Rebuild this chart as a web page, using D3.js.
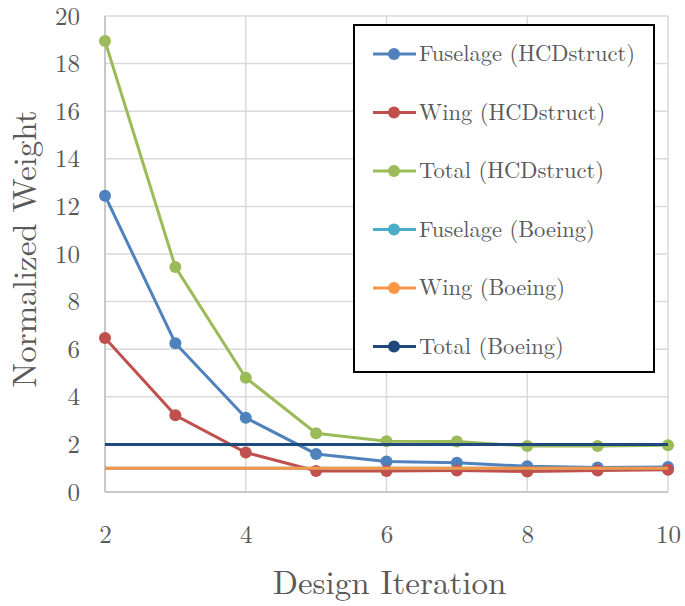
<!DOCTYPE html>
<html>
<head>
<meta charset="utf-8">
<script src="https://cdn.jsdelivr.net/npm/d3@7"></script>
<style>
  body { margin: 0; background: #fff; }
</style>
</head>
<body>
<div id="chart"></div>
<script>
// Daten
const iterations = [2, 3, 4, 5, 6, 7, 8, 9, 10];
const fuselageHCD = [12.45, 6.25, 3.12, 1.6, 1.28, 1.23, 1.08, 1.03, 1.05];
const wingHCD = [6.47, 3.22, 1.66, 0.88, 0.88, 0.9, 0.86, 0.9, 0.93];
const totalHCD = [18.95, 9.45, 4.8, 2.47, 2.13, 2.12, 1.93, 1.93, 1.96];
const fuselageBoeing = [1, 1, 1, 1, 1, 1, 1, 1, 1];
const wingBoeing = [1, 1, 1, 1, 1, 1, 1, 1, 1];
const totalBoeing = [2, 2, 2, 2, 2, 2, 2, 2, 2];
const xTicks = [2, 4, 6, 8, 10];
const yTicks = [0, 2, 4, 6, 8, 10, 12, 14, 16, 18, 20];

const series = [
  { name: "Fuselage (HCDstruct)", values: fuselageHCD, color: "#4f81bd", markers: true },
  { name: "Wing (HCDstruct)", values: wingHCD, color: "#c0504d", markers: true },
  { name: "Total (HCDstruct)", values: totalHCD, color: "#9bbb59", markers: true },
  { name: "Fuselage (Boeing)", values: fuselageBoeing, color: "#4bacc6", markers: false },
  { name: "Wing (Boeing)", values: wingBoeing, color: "#f79646", markers: false },
  { name: "Total (Boeing)", values: totalBoeing, color: "#1f497d", markers: false }
];

const FONT = '"Latin Modern Roman", "Liberation Serif", serif';
const TXT = "#595959";

const width = 685, height = 606;
const margin = { top: 16, right: 17, bottom: 114, left: 105 };

const svg = d3.select("#chart").append("svg")
  .attr("width", width)
  .attr("height", height);

const x = d3.scaleLinear().domain([2, 10]).range([margin.left, width - margin.right]);
const y = d3.scaleLinear().domain([0, 20]).range([height - margin.bottom, margin.top]);

// Gitter
svg.append("g").selectAll("line.h").data(yTicks).join("line")
  .attr("x1", x(2)).attr("x2", x(10))
  .attr("y1", d => y(d)).attr("y2", d => y(d))
  .attr("stroke", "#d9d9d9").attr("stroke-width", 1.5);
svg.append("g").selectAll("line.v").data(xTicks).join("line")
  .attr("x1", d => x(d)).attr("x2", d => x(d))
  .attr("y1", y(0)).attr("y2", y(20))
  .attr("stroke", "#d9d9d9").attr("stroke-width", 1.5);

// Achsenlinien
svg.append("line").attr("x1", x(2)).attr("x2", x(10)).attr("y1", y(0)).attr("y2", y(0))
  .attr("stroke", "#bfbfbf").attr("stroke-width", 1.5);
svg.append("line").attr("x1", x(2)).attr("x2", x(2)).attr("y1", y(0)).attr("y2", y(20))
  .attr("stroke", "#bfbfbf").attr("stroke-width", 1.5);

// Achsenbeschriftung
const yAxis = d3.axisLeft(y).tickValues(yTicks).tickSize(0).tickPadding(25);
svg.append("g").attr("transform", `translate(${margin.left},0)`).call(yAxis)
  .call(g => g.select(".domain").remove())
  .selectAll("text")
  .style("font-family", FONT).style("font-size", "25px").attr("fill", TXT);

const xAxis = d3.axisBottom(x).tickValues(xTicks).tickSize(0).tickPadding(33);
svg.append("g").attr("transform", `translate(0,${y(0)})`).call(xAxis)
  .call(g => g.select(".domain").remove())
  .selectAll("text")
  .style("font-family", FONT).style("font-size", "25px").attr("fill", TXT);

svg.append("text")
  .attr("transform", `translate(36,249) rotate(-90)`)
  .attr("text-anchor", "middle")
  .style("font-family", FONT).style("font-size", "33px").attr("fill", TXT)
  .text("Normalized Weight");

svg.append("text")
  .attr("x", (x(2) + x(10)) / 2 + 3)
  .attr("y", 594)
  .attr("text-anchor", "middle")
  .style("font-family", FONT).style("font-size", "33px").attr("fill", TXT)
  .text("Design Iteration");

// Linien
const line = d3.line()
  .x((d, i) => x(iterations[i]))
  .y(d => y(d));

series.forEach(s => {
  svg.append("path")
    .datum(s.values)
    .attr("fill", "none")
    .attr("stroke", s.color)
    .attr("stroke-width", 3)
    .attr("d", line);
  if (s.markers) {
    svg.append("g").selectAll("circle").data(s.values).join("circle")
      .attr("cx", (d, i) => x(iterations[i]))
      .attr("cy", d => y(d))
      .attr("r", 6)
      .attr("fill", s.color);
  }
});

// Legende
const legend = svg.append("g").attr("transform", "translate(354,25)");
legend.append("rect")
  .attr("width", 300).attr("height", 347)
  .attr("fill", "#fff").attr("stroke", "#000").attr("stroke-width", 2);

series.forEach((s, i) => {
  const gy = 29 + i * 58.5;
  legend.append("line")
    .attr("x1", 19).attr("x2", 62).attr("y1", gy).attr("y2", gy)
    .attr("stroke", s.color).attr("stroke-width", 3);
  legend.append("circle")
    .attr("cx", 40).attr("cy", gy).attr("r", 6).attr("fill", s.color);
  legend.append("text")
    .attr("x", 65).attr("y", gy + 7)
    .style("font-family", FONT).style("font-size", "22.5px").attr("fill", TXT)
    .text(s.name);
});
</script>
</body>
</html>
